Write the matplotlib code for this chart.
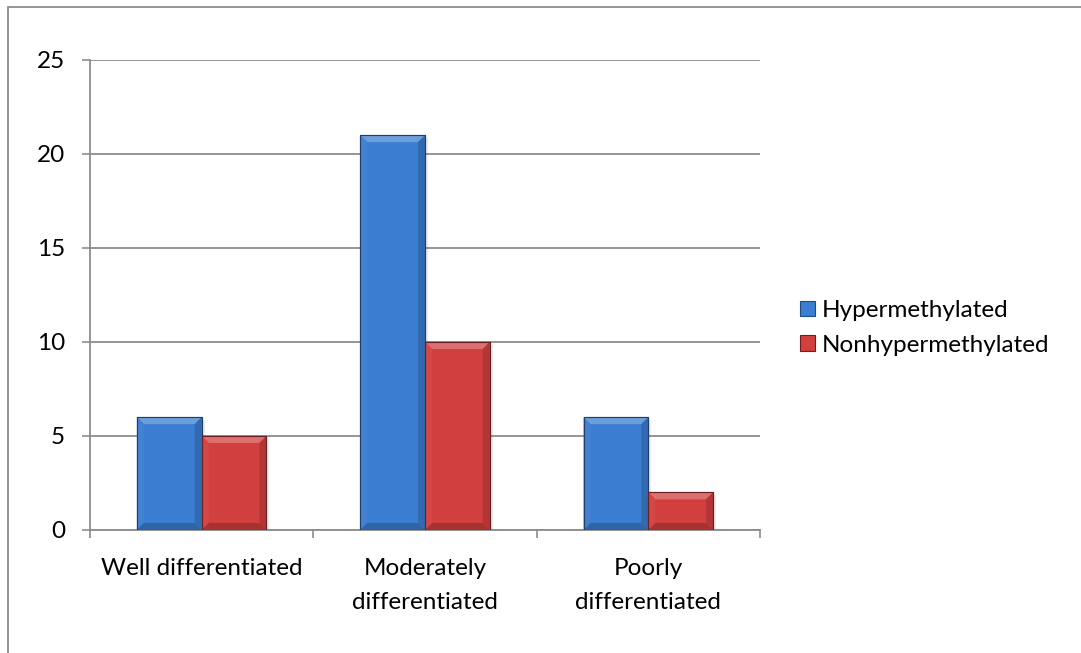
import numpy as np
import matplotlib.pyplot as plt
from matplotlib.patches import Polygon, Rectangle
from matplotlib.colors import to_rgb

plt.rcParams['font.family'] = ['Lato', 'DejaVu Sans']

# Data
categories = ['Well differentiated', 'Moderately\ndifferentiated', 'Poorly\ndifferentiated']
hyper = [6, 21, 6]
nonhyper = [5, 10, 2]
series_names = ['Hypermethylated', 'Nonhypermethylated']
colors = ['#3b7dd0', '#d23f3f']

W, H = 1081, 653
fig = plt.figure(figsize=(W / 100, H / 100), dpi=100)
ax = fig.add_axes([90 / W, 1 - 530 / H, 670 / W, 470 / H])

x = np.arange(len(categories))
bw = 0.29
b1 = ax.bar(x - bw / 2, hyper, bw, color=colors[0], edgecolor='#1f4a80', linewidth=0.8, zorder=3)
b2 = ax.bar(x + bw / 2, nonhyper, bw, color=colors[1], edgecolor='#6e1c1c', linewidth=0.8, zorder=3)

ax.set_xlim(-0.5, len(categories) - 0.5)
ax.set_ylim(0, 25)

# bevel effect on every bar
px_x = (len(categories)) / 670.0
px_y = 25 / 470.0
bev = 7


def shade(c, f):
    r = np.array(to_rgb(c))
    if f > 0:
        return tuple(r + (1 - r) * f)
    return tuple(r * (1 + f))


for bars, c in zip([b1, b2], colors):
    for p in bars:
        x0, y0 = p.get_x(), p.get_y()
        x1, y1 = x0 + p.get_width(), y0 + p.get_height()
        dx, dy = bev * px_x, bev * px_y
        top = [(x0, y1), (x1, y1), (x1 - dx, y1 - dy), (x0 + dx, y1 - dy)]
        left = [(x0, y0), (x0, y1), (x0 + dx, y1 - dy), (x0 + dx, y0 + dy)]
        right = [(x1, y0), (x1, y1), (x1 - dx, y1 - dy), (x1 - dx, y0 + dy)]
        bot = [(x0, y0), (x1, y0), (x1 - dx, y0 + dy), (x0 + dx, y0 + dy)]
        ax.add_patch(Polygon(top, closed=True, color=shade(c, 0.25), lw=0, zorder=4))
        ax.add_patch(Polygon(left, closed=True, color=shade(c, 0.04), lw=0, zorder=4))
        ax.add_patch(Polygon(right, closed=True, color=shade(c, -0.15), lw=0, zorder=4))
        ax.add_patch(Polygon(bot, closed=True, color=shade(c, -0.2), lw=0, zorder=4))
        ax.add_patch(Rectangle((x0, y0), x1 - x0, y1 - y0, fill=False, ec=shade(c, -0.5), lw=0.8, zorder=5))
        # soft shadow on the right
        ax.add_patch(Rectangle((x1, y0), 3 * px_x, y1 - y0 - 3 * px_y, color='#000000', alpha=0.08, lw=0, zorder=2))

fs = 17.5
ax.set_yticks(range(0, 26, 5))
ax.yaxis.grid(True, color='#8c8c8c', linewidth=1.3, zorder=0)
ax.set_axisbelow(True)
ax.set_xticks(x)
ax.set_xticklabels(categories, fontsize=fs, linespacing=1.8)
ax.set_xticks(np.arange(-0.5, len(categories)), minor=True)
ax.tick_params(axis='x', which='major', length=0, pad=20)
ax.tick_params(axis='x', which='minor', length=6, width=1.2, color='#8c8c8c', direction='out')
ax.tick_params(axis='y', length=6, width=1.2, color='#8c8c8c', labelsize=fs, pad=12)

for s in ['top', 'right']:
    ax.spines[s].set_visible(False)
for s in ['left', 'bottom']:
    ax.spines[s].set_color('#8c8c8c')
    ax.spines[s].set_linewidth(1.3)

leg = fig.legend([b1, b2], series_names, loc='upper left',
                 bbox_to_anchor=(788 / W, 1 - 288 / H), frameon=False,
                 fontsize=fs, handlelength=0.6, handleheight=0.6,
                 handletextpad=0.3, labelspacing=0.55, borderpad=0)

# outer frame
fig.patches.append(Rectangle((8 / W, -0.1), 1.2, (1 - 7 / H) + 0.1, transform=fig.transFigure,
                             fill=False, ec='#8c8c8c', lw=1.3))

fig.savefig('out.png', dpi=100)
